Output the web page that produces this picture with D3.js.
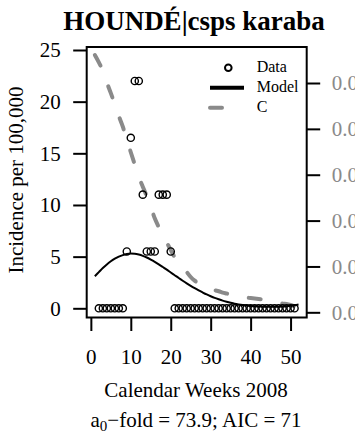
<!DOCTYPE html>
<html>
<head>
<meta charset="utf-8">
<script src="https://cdn.jsdelivr.net/npm/d3@7"></script>
</head>
<body style="margin:0">
<script>
// observed weekly incidence (per 100,000)
const dataWeeks = d3.range(2, 52);
const dataValues = [
    0, 0, 0, 0, 0, 0, 0,          // weeks 2-8
    5.5, 16.5, 22, 22, 11,        // weeks 9-13
    5.5, 5.5, 5.5, 11, 11, 11,    // weeks 14-19
    5.5,                          // week 20
    0, 0, 0, 0, 0, 0, 0, 0, 0, 0, // weeks 21-30
    0, 0, 0, 0, 0, 0, 0, 0, 0, 0, // weeks 31-40
    0, 0, 0, 0, 0, 0, 0, 0, 0, 0, 0 // weeks 41-51
];

// fitted model curve
const modelWeeks = d3.range(1, 53);
const modelValues = [
    3.1, 3.5, 3.9, 4.25, 4.55, 4.8, 5.0, 5.15, 5.25, 5.3,
    5.28, 5.2, 5.08, 4.92, 4.72, 4.5, 4.26, 4.0, 3.74, 3.47,
    3.2, 2.93, 2.67, 2.42, 2.18, 1.95, 1.73, 1.53, 1.34, 1.17,
    1.01, 0.87, 0.74, 0.63, 0.53, 0.44, 0.37, 0.31, 0.26, 0.22,
    0.19, 0.17, 0.15, 0.14, 0.14, 0.14, 0.15, 0.17, 0.2, 0.24,
    0.3, 0.37
];

// C series, right axis
const cValues = [
    0.0561, 0.0545, 0.0527, 0.0501, 0.0478, 0.0454, 0.0428, 0.0405, 0.0376, 0.0349,
    0.0322, 0.0295, 0.0274, 0.0253, 0.0230, 0.0205, 0.0186, 0.0168, 0.0152, 0.0136,
    0.0120, 0.0110, 0.0100, 0.0088, 0.0077, 0.0069, 0.0063, 0.0059, 0.0055, 0.0051,
    0.0048, 0.0046, 0.0043, 0.0041, 0.0039, 0.0037, 0.0035, 0.0033, 0.0032, 0.0031,
    0.0030, 0.0029, 0.0028, 0.0027, 0.0025, 0.0023, 0.0021, 0.0019, 0.0018, 0.0016,
    0.0013, 0.0011
];

const xTicks = [0, 10, 20, 30, 40, 50];
const yTicks = [0, 5, 10, 15, 20, 25];
const rightTicks = [0, 0.01, 0.02, 0.03, 0.04, 0.05];
const legendLabels = ["Data", "Model", "C"];

const width = 355, height = 437;
const box = { left: 86.7, right: 306.7, top: 47, bottom: 317.5 };
const grey = "#8a8a8a";
const fontStack = "'Liberation Serif', 'Times New Roman', Times, serif";
const fs = "21px";

const svg = d3.select("body").append("svg")
    .attr("width", width)
    .attr("height", height)
    .style("font-family", fontStack);

const x = d3.scaleLinear().domain([-1.04, 54.04]).range([box.left, box.right]);
const y = d3.scaleLinear().domain([-0.89, 25.29]).range([box.bottom, box.top]);
const yR = d3.scaleLinear().domain([-0.00113, 0.05785]).range([box.bottom, box.top]);

// C curve (dashed grey)
svg.append("path")
    .datum(modelWeeks.map((w, i) => [w, cValues[i]]))
    .attr("d", d3.line().x(d => x(d[0])).y(d => yR(d[1])).curve(d3.curveMonotoneX))
    .attr("fill", "none")
    .attr("stroke", grey)
    .attr("stroke-width", 4)
    .attr("stroke-linecap", "round")
    .attr("stroke-dasharray", "12,22");

// model curve
svg.append("path")
    .datum(modelWeeks.map((w, i) => [w, modelValues[i]]))
    .attr("d", d3.line().x(d => x(d[0])).y(d => y(d[1])).curve(d3.curveMonotoneX))
    .attr("fill", "none")
    .attr("stroke", "#000")
    .attr("stroke-width", 2);

// data points
svg.append("g")
    .selectAll("circle")
    .data(dataWeeks.map((w, i) => [w, dataValues[i]]))
    .enter()
    .append("circle")
    .attr("cx", d => x(d[0]))
    .attr("cy", d => y(d[1]))
    .attr("r", 3.6)
    .attr("fill", "none")
    .attr("stroke", "#000")
    .attr("stroke-width", 1.4);

// box
svg.append("rect")
    .attr("x", box.left)
    .attr("y", box.top)
    .attr("width", box.right - box.left)
    .attr("height", box.bottom - box.top)
    .attr("fill", "none")
    .attr("stroke", "#000")
    .attr("stroke-width", 2);

// axes
const styleAxis = (g) => {
    g.attr("font-family", null).attr("font-size", null);
    g.select(".domain").remove();
    g.selectAll(".tick line").attr("stroke", "#000").attr("stroke-width", 2);
    g.selectAll(".tick text")
        .style("font-family", fontStack)
        .style("font-size", fs)
        .attr("fill", "#000");
};

svg.append("g")
    .attr("transform", `translate(0,${box.bottom})`)
    .call(d3.axisBottom(x).tickValues(xTicks).tickSize(13.5).tickPadding(0).tickSizeOuter(0))
    .call(styleAxis)
    .call(g => g.selectAll(".tick text").attr("y", 46.5).attr("dy", null));

svg.append("g")
    .attr("transform", `translate(${box.left},0)`)
    .call(d3.axisLeft(y).tickValues(yTicks).tickSize(13.5).tickPadding(12.5).tickSizeOuter(0))
    .call(styleAxis)
    .call(g => g.selectAll(".tick text").attr("dy", "0.33em"));

svg.append("g")
    .attr("transform", `translate(${box.right},0)`)
    .call(d3.axisRight(yR).tickValues(rightTicks).tickSize(13.5).tickPadding(11.5)
        .tickFormat(d3.format(".3f")).tickSizeOuter(0))
    .call(styleAxis)
    .call(g => g.selectAll(".tick text").attr("fill", grey).attr("dy", "0.33em"));

// title and labels
svg.append("text")
    .attr("x", 194)
    .attr("y", 30)
    .attr("text-anchor", "middle")
    .style("font-family", fontStack)
    .style("font-size", "27px")
    .style("font-weight", "bold")
    .text("HOUNDÉ|csps karaba");

svg.append("text")
    .attr("transform", "translate(23,180) rotate(-90)")
    .attr("text-anchor", "middle")
    .style("font-family", fontStack)
    .style("font-size", fs)
    .text("Incidence per 100,000");

svg.append("text")
    .attr("x", 196)
    .attr("y", 397)
    .attr("text-anchor", "middle")
    .style("font-family", fontStack)
    .style("font-size", fs)
    .text("Calendar Weeks 2008");

const sub = svg.append("text")
    .attr("x", 196)
    .attr("y", 426.5)
    .attr("text-anchor", "middle")
    .style("font-family", fontStack)
    .style("font-size", fs);
sub.append("tspan").text("a");
sub.append("tspan").style("font-size", "15px").attr("dy", 4).text("0");
sub.append("tspan").attr("dy", -4).text("\u2212fold = 73.9; AIC = 71");

// legend
const legend = svg.append("g").attr("class", "legend");
const rowY = (i) => 67.7 + i * 20;

legend.append("circle")
    .attr("cx", 228.3)
    .attr("cy", rowY(0))
    .attr("r", 3.3)
    .attr("fill", "none")
    .attr("stroke", "#000")
    .attr("stroke-width", 2);

legend.append("line")
    .attr("x1", 210).attr("x2", 244)
    .attr("y1", rowY(1)).attr("y2", rowY(1))
    .attr("stroke", "#000")
    .attr("stroke-width", 4);

legend.append("line")
    .attr("x1", 210).attr("x2", 244)
    .attr("y1", rowY(2)).attr("y2", rowY(2))
    .attr("stroke", grey)
    .attr("stroke-width", 4)
    .attr("stroke-linecap", "round")
    .attr("stroke-dasharray", "12,22");

legend.selectAll(".legend-label")
    .data(legendLabels)
    .enter()
    .append("text")
    .attr("class", "legend-label")
    .attr("x", 256.7)
    .attr("y", (d, i) => rowY(i) + 4.6)
    .style("font-family", fontStack)
    .style("font-size", "16px")
    .text(d => d);
</script>
</body>
</html>
